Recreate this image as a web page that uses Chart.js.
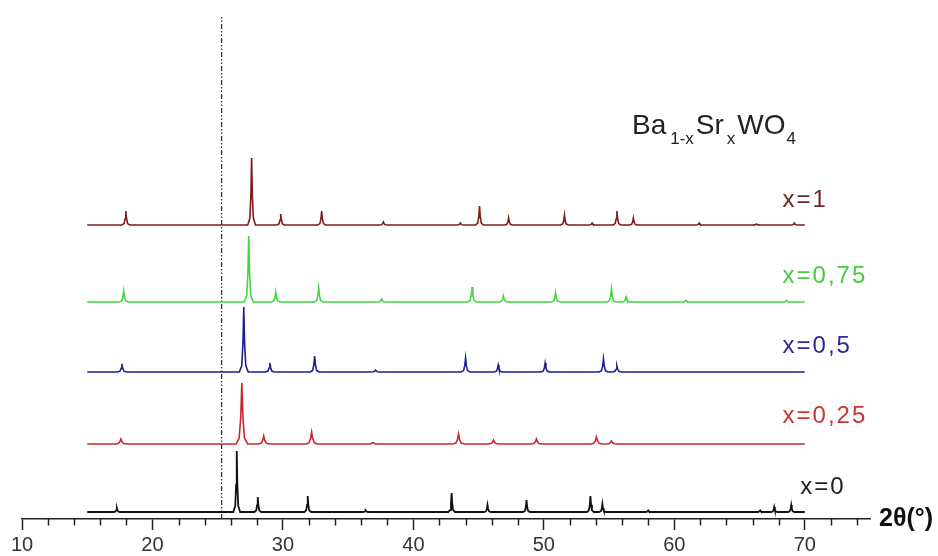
<!DOCTYPE html>
<html><head><meta charset="utf-8">
<script src="https://cdn.jsdelivr.net/npm/chart.js@4.4.0/dist/chart.umd.min.js"></script>
<style>html,body{margin:0;padding:0;background:#fff}#wrap{width:938px;height:556px}</style>
</head><body><div id="wrap"><canvas id="c" width="938" height="556"></canvas></div>
<script>
// ---- data (2θ in degrees, intensity in arbitrary stacked units) ----
const seriesNames = ['x=0', 'x=0,25', 'x=0,5', 'x=0,75', 'x=1'];
const baselines = [7, 75, 147, 217, 294];

const peaks_x0 = [17.27, 26.46, 28.07, 31.9, 36.34, 42.93, 45.68, 48.67, 53.57, 54.49, 58.0, 66.58, 67.66, 68.96];
const heights_x0 = [4, 61, 15, 16, 1.5, 19, 7, 12, 16, 8, 1.5, 1.5, 5, 7];

const peaks_x025 = [17.58, 26.85, 28.53, 32.2, 36.9, 43.46, 46.14, 49.43, 54.03, 55.18];
const heights_x025 = [5, 61, 8, 12, 1.5, 10, 4, 5, 7, 3];

const peaks_x05 = [17.66, 27.0, 29.0, 32.43, 37.1, 44.0, 46.5, 50.1, 54.57, 55.6];
const heights_x05 = [8, 65, 9, 16, 2, 14, 7, 9, 13, 6];

const peaks_x075 = [17.8, 27.38, 29.45, 32.74, 37.57, 44.5, 46.9, 50.9, 55.18, 56.3, 60.9, 68.6];
const heights_x075 = [11, 66, 10, 14, 3, 15, 6, 9, 13, 5, 1.5, 1.5];

const peaks_x1 = [17.96, 27.6, 29.83, 32.97, 37.7, 43.6, 45.07, 47.3, 51.58, 53.7, 55.6, 56.86, 61.9, 66.3, 69.2];
const heights_x1 = [14, 67, 11, 14, 3, 2, 19, 7, 10, 2, 14, 7, 2, 1, 2];

const scanRange = [15, 70];
const xTicks = [10, 20, 30, 40, 50, 60, 70];
const minorTicks = [12, 14, 16, 18, 22, 24, 26, 28, 32, 34, 36, 38, 42, 44, 46, 48, 52, 54, 56, 58, 62, 64, 66, 68, 72, 74];
const refLine2Theta = 25.3;

// ---- styles ----
const lineColors = ['#111111', '#c8282d', '#1e1e96', '#40d840', '#7a1c1c'];
const textColors = ['#222222', '#cc3333', '#2a2a96', '#44cc44', '#6e2626'];
const peakHalfWidths = [0.26, 0.45, 0.34, 0.34, 0.3];
const labelX = [69.65, 68.3, 68.3, 68.3, 68.3];
const labelY = [32, 103, 173, 243, 319];

function buildTrace(peaks, heights, base, hw) {
  const pts = [{x: scanRange[0], y: base}];
  peaks.forEach((p, i) => {
    const h = heights[i];
    pts.push({x: p - hw, y: base},
             {x: p - hw * 0.45, y: base + h * 0.1},
             {x: p - hw * 0.18, y: base + h * 0.45},
             {x: p, y: base + h},
             {x: p + hw * 0.18, y: base + h * 0.45},
             {x: p + hw * 0.45, y: base + h * 0.1},
             {x: p + hw, y: base});
  });
  pts.push({x: scanRange[1], y: base});
  return pts;
}

const allPeaks = [peaks_x0, peaks_x025, peaks_x05, peaks_x075, peaks_x1];
const allHeights = [heights_x0, heights_x025, heights_x05, heights_x075, heights_x1];

const datasets = allPeaks.map((pk, i) => ({
  label: seriesNames[i],
  data: buildTrace(pk, allHeights[i], baselines[i], peakHalfWidths[i]),
  borderColor: lineColors[i],
  borderWidth: i === 0 ? 1.8 : 1.6,
  pointRadius: 0,
  tension: 0,
  fill: false
}));
datasets.push({
  label: 'ref',
  data: [{x: refLine2Theta, y: 0}, {x: refLine2Theta, y: 504}],
  borderColor: '#333333',
  borderWidth: 1.3,
  borderDash: [5, 2, 1.5, 2, 1.5, 2],
  pointRadius: 0,
  fill: false
});

const FONT = '"Liberation Sans", Arial, sans-serif';

const decor = {
  id: 'decor',
  afterDraw(chart) {
    const ctx = chart.ctx;
    const xs = chart.scales.x, ys = chart.scales.y;
    ctx.save();
    // minor ticks
    ctx.strokeStyle = '#222';
    ctx.lineWidth = 1.5;
    minorTicks.forEach(v => {
      const px = Math.round(xs.getPixelForValue(v)) + 0.5;
      ctx.beginPath();
      ctx.moveTo(px, xs.top);
      ctx.lineTo(px, xs.top + 6.5);
      ctx.stroke();
    });
    // series labels
    ctx.textBaseline = 'middle';
    ctx.textAlign = 'left';
    ctx.font = '24px ' + FONT;
    try { ctx.letterSpacing = '2px'; } catch (e) {}
    seriesNames.forEach((n, i) => {
      ctx.fillStyle = textColors[i];
      ctx.fillText(n, xs.getPixelForValue(labelX[i]), ys.getPixelForValue(labelY[i]));
    });
    try { ctx.letterSpacing = '0px'; } catch (e) {}
    // axis label
    ctx.fillStyle = '#111';
    ctx.font = 'bold 25px ' + FONT;
    ctx.fillText('2θ(°)', xs.right + 9, xs.top);
    // title with subscripts
    const parts = [['Ba', 28, 0, 4], ['1-x', 17, 10, 2], ['Sr', 28, 0, 3], ['x', 17, 10, 2], ['WO', 28, 0, 1], ['4', 17, 10, 0]];
    let tx = 632;
    const ty = 134;
    ctx.textBaseline = 'alphabetic';
    ctx.fillStyle = '#222';
    parts.forEach(([t, s, dy, gap]) => {
      ctx.font = s + 'px ' + FONT;
      ctx.fillText(t, tx, ty + dy);
      tx += ctx.measureText(t).width + gap;
    });
    ctx.restore();
  }
};

new Chart(document.getElementById('c'), {
  type: 'line',
  data: {datasets},
  options: {
    responsive: false,
    animation: false,
    devicePixelRatio: 1,
    layout: {padding: {left: 22, right: 68, top: 10, bottom: -4}},
    plugins: {legend: {display: false}, tooltip: {enabled: false}},
    scales: {
      x: {
        type: 'linear', min: 10, max: 75, position: 'bottom',
        afterBuildTicks: (scale) => { scale.ticks = xTicks.map(v => ({value: v})); },
        grid: {drawOnChartArea: false, drawTicks: true, tickLength: 11, tickColor: '#222', tickWidth: 1.5},
        border: {display: true, color: '#222', width: 1.5},
        ticks: {padding: 5, autoSkip: false, maxRotation: 0, color: '#333',
                font: {size: 20, family: FONT, lineHeight: 1}}
      },
      y: {type: 'linear', min: 0, max: 509, display: false}
    }
  },
  plugins: [decor]
});
</script>
</body></html>
